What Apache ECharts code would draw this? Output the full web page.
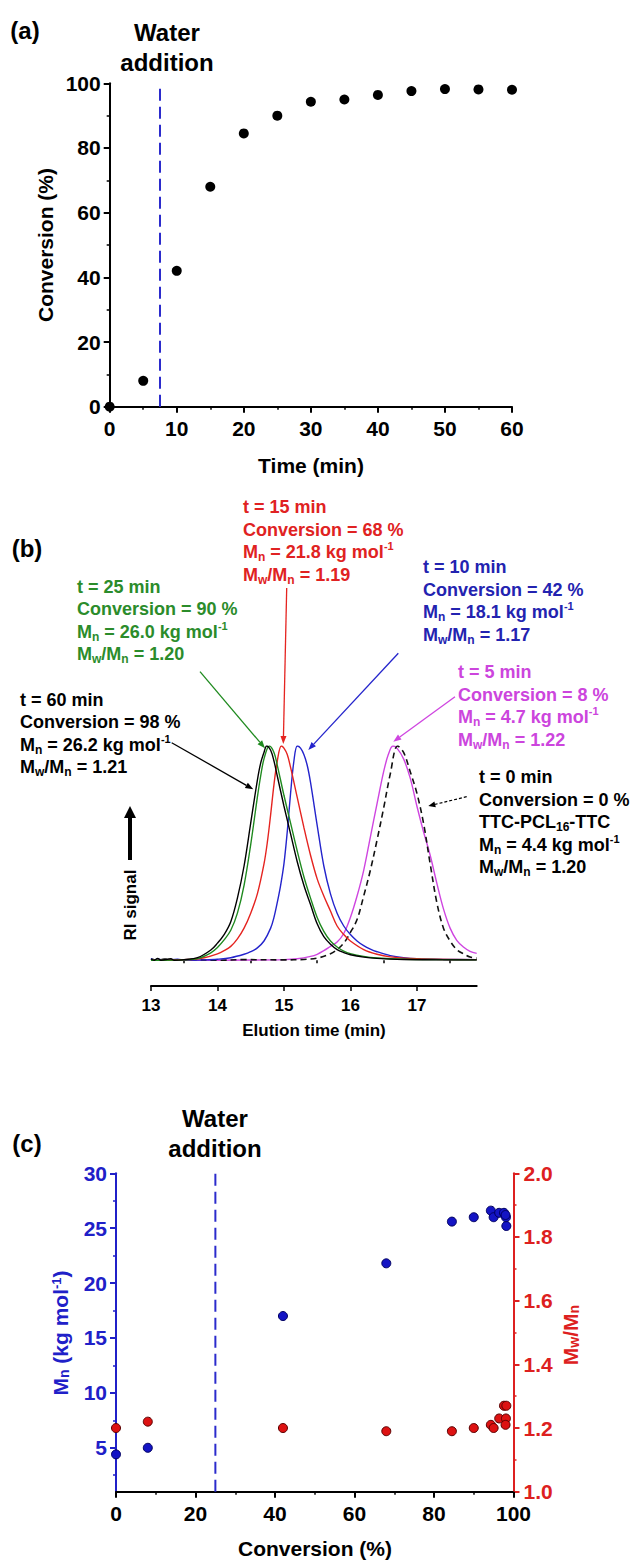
<!DOCTYPE html>
<html>
<head>
<meta charset="utf-8">
<script src="https://cdn.jsdelivr.net/npm/echarts@6/dist/echarts.min.js"></script>
<style>
  html, body { margin: 0; padding: 0; background: #ffffff; }
  #chart { width: 635px; height: 1560px; }
</style>
</head>
<body>
<div id="chart"></div>
<script>
// ---------- data ----------
// (a) monomer conversion against reaction time
const times = [0, 5, 10, 15, 20, 25, 30, 35, 40, 45, 50, 55, 60];
const conversion = [0, 8, 42, 68, 84.5, 90, 94.3, 95.0, 96.4, 97.6, 98.2, 98.1, 98];
const waterTime = 7.5;      // min
const waterConversion = 25; // %

// (c) molar mass and dispersity against conversion (same samples as above)
const mnValues = [4.4, 5.0, 17.0, 21.8, 25.6, 26.0, 26.6, 26.0, 26.4, 26.4, 25.2, 26.0, 26.2];
const dispersity = [1.20, 1.22, 1.20, 1.19, 1.19, 1.20, 1.21, 1.20, 1.23, 1.27, 1.27, 1.23, 1.21];

// (b) SEC traces: [elution time (min), normalised RI signal]
const trace60 = [[13.0,0.006],[13.05,0.0],[13.1,0.009],[13.15,0.0],[13.3,0.007],[13.35,0.0],[13.5,0.003],[13.7,0.012],[13.9,0.048],[14.0,0.08],[14.1,0.12],[14.2,0.18],[14.3,0.29],[14.4,0.44],[14.5,0.64],[14.6,0.84],[14.65,0.92],[14.7,0.97],[14.74,1.0],[14.8,0.98],[14.85,0.93],[14.9,0.86],[15.0,0.72],[15.1,0.59],[15.2,0.46],[15.3,0.35],[15.4,0.26],[15.5,0.17],[15.6,0.11],[15.7,0.075],[15.8,0.05],[15.9,0.036],[16.0,0.026],[16.2,0.015],[16.4,0.009],[16.8,0.004],[17.4,0.002],[17.9,0.002]];
const trace25 = [[13.0,0.0],[13.5,0.002],[13.7,0.008],[13.9,0.035],[14.0,0.06],[14.1,0.095],[14.2,0.14],[14.3,0.22],[14.4,0.35],[14.5,0.54],[14.6,0.76],[14.65,0.86],[14.7,0.94],[14.78,1.0],[14.85,0.97],[14.9,0.91],[15.0,0.77],[15.1,0.64],[15.2,0.51],[15.3,0.39],[15.4,0.29],[15.5,0.2],[15.6,0.135],[15.7,0.09],[15.8,0.062],[15.9,0.043],[16.0,0.031],[16.2,0.018],[16.4,0.011],[16.8,0.005],[17.4,0.003],[17.9,0.002]];
const trace15 = [[13.0,0.0],[13.6,0.004],[13.8,0.012],[14.0,0.03],[14.1,0.045],[14.2,0.065],[14.3,0.1],[14.4,0.15],[14.5,0.22],[14.6,0.31],[14.7,0.45],[14.75,0.55],[14.8,0.68],[14.85,0.82],[14.9,0.93],[14.96,1.0],[15.0,0.99],[15.05,0.96],[15.1,0.9],[15.2,0.76],[15.3,0.62],[15.4,0.49],[15.5,0.38],[15.6,0.3],[15.7,0.23],[15.8,0.16],[15.9,0.12],[16.0,0.09],[16.2,0.05],[16.4,0.028],[16.6,0.016],[17.0,0.007],[17.9,0.003]];
const trace10 = [[13.0,0.008],[13.05,0.0],[13.1,0.006],[13.2,0.0],[13.4,0.005],[13.5,0.0],[13.8,0.002],[14.0,0.005],[14.2,0.012],[14.4,0.028],[14.5,0.04],[14.6,0.058],[14.7,0.09],[14.8,0.15],[14.85,0.2],[14.9,0.27],[14.95,0.35],[15.0,0.45],[15.05,0.6],[15.1,0.78],[15.15,0.93],[15.2,1.0],[15.25,0.99],[15.3,0.96],[15.35,0.91],[15.4,0.83],[15.5,0.63],[15.6,0.44],[15.7,0.31],[15.8,0.22],[15.9,0.16],[16.0,0.12],[16.1,0.09],[16.2,0.068],[16.3,0.052],[16.4,0.04],[16.6,0.022],[16.8,0.012],[17.0,0.007],[17.4,0.004],[17.9,0.003]];
const trace5 = [[13.0,0.0],[14.5,0.001],[15.0,0.003],[15.2,0.007],[15.4,0.018],[15.5,0.028],[15.6,0.045],[15.7,0.065],[15.8,0.085],[15.9,0.125],[16.0,0.2],[16.1,0.3],[16.2,0.42],[16.3,0.575],[16.4,0.73],[16.5,0.88],[16.57,0.96],[16.64,1.0],[16.7,0.99],[16.8,0.94],[16.9,0.85],[17.0,0.72],[17.1,0.6],[17.2,0.49],[17.3,0.36],[17.4,0.24],[17.5,0.15],[17.6,0.093],[17.7,0.062],[17.8,0.042],[17.9,0.032]];
const trace0 = [[13.0,0.007],[13.1,0.0],[13.2,0.006],[13.3,0.0],[13.6,0.003],[14.0,0.0],[14.4,0.003],[15.0,0.002],[15.3,0.004],[15.5,0.01],[15.7,0.03],[15.8,0.05],[15.9,0.08],[16.0,0.13],[16.1,0.19],[16.2,0.3],[16.3,0.42],[16.4,0.56],[16.5,0.71],[16.6,0.87],[16.71,1.0],[16.8,0.97],[16.9,0.88],[17.0,0.78],[17.1,0.64],[17.2,0.45],[17.3,0.27],[17.4,0.15],[17.5,0.09],[17.6,0.05],[17.7,0.03],[17.8,0.015],[17.9,0.01]];

// tick values
const elutionTicks = [13, 14, 15, 16, 17];
const elutionMinor = [13.5, 14.5, 15.5, 16.5, 17.5];
const mnTicks = [5, 10, 15, 20, 25, 30];
const mnMinor = [2.5, 7.5, 12.5, 17.5, 22.5, 27.5];

// annotation text for the SEC traces
const note15 = ['t = 15 min', 'Conversion = 68 %', 'M{sub|n} = 21.8 kg mol{sup|-1}', 'M{sub|w}/M{sub|n} = 1.19'];
const note10 = ['t = 10 min', 'Conversion = 42 %', 'M{sub|n} = 18.1 kg mol{sup|-1}', 'M{sub|w}/M{sub|n} = 1.17'];
const note25 = ['t = 25 min', 'Conversion = 90 %', 'M{sub|n} = 26.0 kg mol{sup|-1}', 'M{sub|w}/M{sub|n} = 1.20'];
const note5 = ['t = 5 min', 'Conversion = 8 %', 'M{sub|n} = 4.7 kg mol{sup|-1}', 'M{sub|w}/M{sub|n} = 1.22'];
const note60 = ['t = 60 min', 'Conversion = 98 %', 'M{sub|n} = 26.2 kg mol{sup|-1}', 'M{sub|w}/M{sub|n} = 1.21'];
const note0 = ['t = 0 min', 'Conversion = 0 %', 'TTC-PCL{sub|16}-TTC', 'M{sub|n} = 4.4 kg mol{sup|-1}', 'M{sub|w}/M{sub|n} = 1.20'];

// ---------- styling ----------
const FONT = '"Liberation Sans", Arial, Helvetica, sans-serif';
const C = {
  black: '#000000',
  water: '#2b2bcc',
  green: '#1f8a1f', greenText: '#2b8c2b',
  red: '#e52420', redText: '#e02222',
  blue: '#2424cc', blueText: '#2323b0',
  magenta: '#cf45e0', magentaText: '#cc45dd',
  mnAxis: '#2020c8', pdiAxis: '#dd2020'
};

function rich(size, color) {
  const s = Math.round(size * 0.68), p = Math.round(size * 0.6);
  return {
    sub: { fontSize: s, lineHeight: s, verticalAlign: 'bottom', fontWeight: 'bold', fontFamily: FONT, fill: color, color: color },
    sup: { fontSize: p, lineHeight: p, verticalAlign: 'top', fontWeight: 'bold', fontFamily: FONT, fill: color, color: color }
  };
}

function axisStyle(color, labelSize, margin) {
  return {
    axisLine: { show: true, onZero: false, lineStyle: { color: color, width: 2 } },
    axisTick: { show: true, inside: false, length: 6, lineStyle: { color: color, width: 2 } },
    minorTick: { show: true, splitNumber: 2, length: 3, lineStyle: { color: color, width: 1.5 } },
    axisLabel: { color: color, fontSize: labelSize, fontWeight: 'bold', fontFamily: FONT, margin: margin },
    splitLine: { show: false },
    minorSplitLine: { show: false }
  };
}

// graphic helpers
function textBlock(x, yFirst, lines, color, size, lh) {
  size = size || 18; lh = lh || 22.5;
  return {
    type: 'text', x: x, y: yFirst - lh / 2, z: 50,
    style: {
      text: lines.join('\n'), fill: color, fontSize: size, fontWeight: 'bold', fontFamily: FONT,
      lineHeight: lh, align: 'left', verticalAlign: 'top', rich: rich(size, color)
    }
  };
}
function label(x, y, text, size, color, rotation) {
  return {
    type: 'text', x: x, y: y, rotation: rotation || 0, z: 50,
    style: {
      text: text, fill: color, fontSize: size, fontWeight: 'bold', fontFamily: FONT,
      align: 'center', verticalAlign: 'middle', rich: rich(size, color)
    }
  };
}
function arrow(x1, y1, x2, y2, color, width, headLen, headHalf, dash) {
  const a = Math.atan2(y2 - y1, x2 - x1);
  const bx = x2 - headLen * Math.cos(a), by = y2 - headLen * Math.sin(a);
  const px = -Math.sin(a) * headHalf, py = Math.cos(a) * headHalf;
  return [
    { type: 'line', z: 40, shape: { x1: x1, y1: y1, x2: bx, y2: by },
      style: { stroke: color, lineWidth: width, lineDash: dash || null } },
    { type: 'polygon', z: 40, shape: { points: [[x2, y2], [bx + px, by + py], [bx - px, by - py]] },
      style: { fill: color } }
  ];
}

// ---------- option ----------
const pairs = (xs, ys) => xs.map((x, i) => [x, ys[i]]);

const option = {
  backgroundColor: '#ffffff',
  animation: false,
  grid: [
    { left: 109.7, right: 123, top: 83.3, bottom: 1153.3 },
    { left: 151, right: 158.3, top: 746, bottom: 574 },
    { left: 116, right: 121.5, top: 1173.3, bottom: 68.3 }
  ],
  xAxis: [
    Object.assign({ gridIndex: 0, type: 'value', min: 0, max: 60, interval: 10, position: 'bottom' },
      axisStyle(C.black, 21, 11)),
    Object.assign({ gridIndex: 1, type: 'value', min: 13, max: 17.9, position: 'bottom' },
      axisStyle(C.black, 17, 11),
      { axisTick: { show: true, length: 5, customValues: elutionTicks, lineStyle: { color: C.black, width: 1.5 } },
        axisLabel: { customValues: elutionTicks, color: C.black, fontSize: 17, fontWeight: 'bold', fontFamily: FONT, margin: 11 },
        minorTick: { show: false } }),
    { gridIndex: 1, type: 'value', min: 13, max: 17.9, position: 'bottom',
      axisLine: { show: false }, axisLabel: { show: false }, splitLine: { show: false },
      axisTick: { show: true, length: 3, customValues: elutionMinor, lineStyle: { color: C.black, width: 1.5 } } },
    Object.assign({ gridIndex: 2, type: 'value', min: 0, max: 100, interval: 20, position: 'bottom' },
      axisStyle(C.black, 21, 11))
  ],
  yAxis: [
    Object.assign({ gridIndex: 0, type: 'value', min: 0, max: 100, interval: 20, position: 'left' },
      axisStyle(C.black, 21, 9)),
    { gridIndex: 1, type: 'value', min: -0.12, max: 1, show: false },
    Object.assign({ gridIndex: 2, type: 'value', min: 1, max: 30, position: 'left' },
      axisStyle(C.mnAxis, 21, 9),
      { axisTick: { show: true, length: 6, customValues: mnTicks, lineStyle: { color: C.mnAxis, width: 2 } },
        axisLabel: { customValues: mnTicks, color: C.mnAxis, fontSize: 21, fontWeight: 'bold', fontFamily: FONT, margin: 9 },
        minorTick: { show: false } }),
    { gridIndex: 2, type: 'value', min: 1, max: 30, position: 'left',
      axisLine: { show: false }, axisLabel: { show: false }, splitLine: { show: false },
      axisTick: { show: true, length: 3, customValues: mnMinor, lineStyle: { color: C.mnAxis, width: 1.5 } } },
    Object.assign({ gridIndex: 2, type: 'value', min: 1, max: 2, interval: 0.2, position: 'right' },
      axisStyle(C.pdiAxis, 21, 10),
      { axisLabel: { color: C.pdiAxis, fontSize: 21, fontWeight: 'bold', fontFamily: FONT, margin: 10,
          formatter: v => v.toFixed(1) } })
  ],
  series: [
    // (a)
    { type: 'line', xAxisIndex: 0, yAxisIndex: 0, symbol: 'none', silent: true,
      data: [[waterTime, 0], [waterTime, 100]],
      lineStyle: { color: C.water, width: 2, type: [12, 6] } },
    { type: 'scatter', xAxisIndex: 0, yAxisIndex: 0, clip: false, symbolSize: 10,
      data: pairs(times, conversion), itemStyle: { color: C.black, opacity: 1 } },
    // (b)
    { type: 'line', xAxisIndex: 1, yAxisIndex: 1, symbol: 'none', smooth: 0.35, data: trace5,
      lineStyle: { color: C.magenta, width: 1.4 } },
    { type: 'line', xAxisIndex: 1, yAxisIndex: 1, symbol: 'none', smooth: 0.35, data: trace0,
      lineStyle: { color: '#111111', width: 1.6, type: [6, 4] } },
    { type: 'line', xAxisIndex: 1, yAxisIndex: 1, symbol: 'none', smooth: 0.35, data: trace10,
      lineStyle: { color: C.blue, width: 1.4 } },
    { type: 'line', xAxisIndex: 1, yAxisIndex: 1, symbol: 'none', smooth: 0.35, data: trace15,
      lineStyle: { color: C.red, width: 1.4 } },
    { type: 'line', xAxisIndex: 1, yAxisIndex: 1, symbol: 'none', smooth: 0.35, data: trace25,
      lineStyle: { color: C.green, width: 1.4 } },
    { type: 'line', xAxisIndex: 1, yAxisIndex: 1, symbol: 'none', smooth: 0.35, data: trace60,
      lineStyle: { color: C.black, width: 1.4 } },
    // (c)
    { type: 'line', xAxisIndex: 3, yAxisIndex: 2, symbol: 'none', silent: true,
      data: [[waterConversion, 1], [waterConversion, 30]],
      lineStyle: { color: C.water, width: 2, type: [12, 6] } },
    { type: 'scatter', xAxisIndex: 3, yAxisIndex: 2, clip: false, symbolSize: 9,
      data: pairs(conversion, mnValues),
      itemStyle: { color: '#1414c4', borderColor: '#000060', borderWidth: 1, opacity: 1 } },
    { type: 'scatter', xAxisIndex: 3, yAxisIndex: 4, clip: false, symbolSize: 9,
      data: pairs(conversion, dispersity),
      itemStyle: { color: '#dd1212', borderColor: '#5a0000', borderWidth: 1, opacity: 1 } }
  ],
  graphic: [].concat(
    // (a)
    label(25, 30, '(a)', 24, C.black),
    label(167, 32, 'Water', 24, C.black),
    label(167, 62, 'addition', 24, C.black),
    label(45, 245, 'Conversion (%)', 21, C.black, Math.PI / 2),
    label(311, 465, 'Time (min)', 21, C.black),
    // (b)
    label(27, 548, '(b)', 24, C.black),
    textBlock(243, 507, note15, C.redText),
    textBlock(423, 567, note10, C.blueText),
    textBlock(77, 586.5, note25, C.greenText),
    textBlock(20, 699.5, note60, C.black),
    textBlock(458, 672, note5, C.magentaText),
    textBlock(479, 777, note0, C.black),
    arrow(200, 671.7, 265, 748.3, C.green, 1.3, 8, 3),
    arrow(286.7, 588, 283.3, 744, C.red, 1.3, 8, 3),
    arrow(398.3, 653.3, 308.3, 750, C.blue, 1.3, 8, 3),
    arrow(455, 696.7, 393.3, 741.7, C.magenta, 1.3, 8, 3),
    arrow(171.7, 742.7, 253.3, 789.3, C.black, 1.3, 8, 3),
    arrow(466.7, 796.7, 428.3, 806, C.black, 1.2, 7, 3, [3, 2]),
    arrow(130, 860, 130, 806, C.black, 4, 12, 6),
    label(130, 905, 'RI signal', 17, C.black, Math.PI / 2),
    label(314, 1030, 'Elution time (min)', 17, C.black),
    // (c)
    label(27, 1143, '(c)', 24, C.black),
    label(215, 1118, 'Water', 24, C.black),
    label(215, 1148, 'addition', 24, C.black),
    label(60, 1333, 'M{sub|n} (kg mol{sup|-1})', 21, C.mnAxis, Math.PI / 2),
    label(570, 1335, 'M{sub|w}/M{sub|n}', 21, C.pdiAxis, Math.PI / 2),
    label(315, 1548, 'Conversion (%)', 21, C.black)
  )
};

const chart = echarts.init(document.getElementById('chart'), null, { renderer: 'svg', width: 635, height: 1560 });
chart.setOption(option);
</script>
</body>
</html>
